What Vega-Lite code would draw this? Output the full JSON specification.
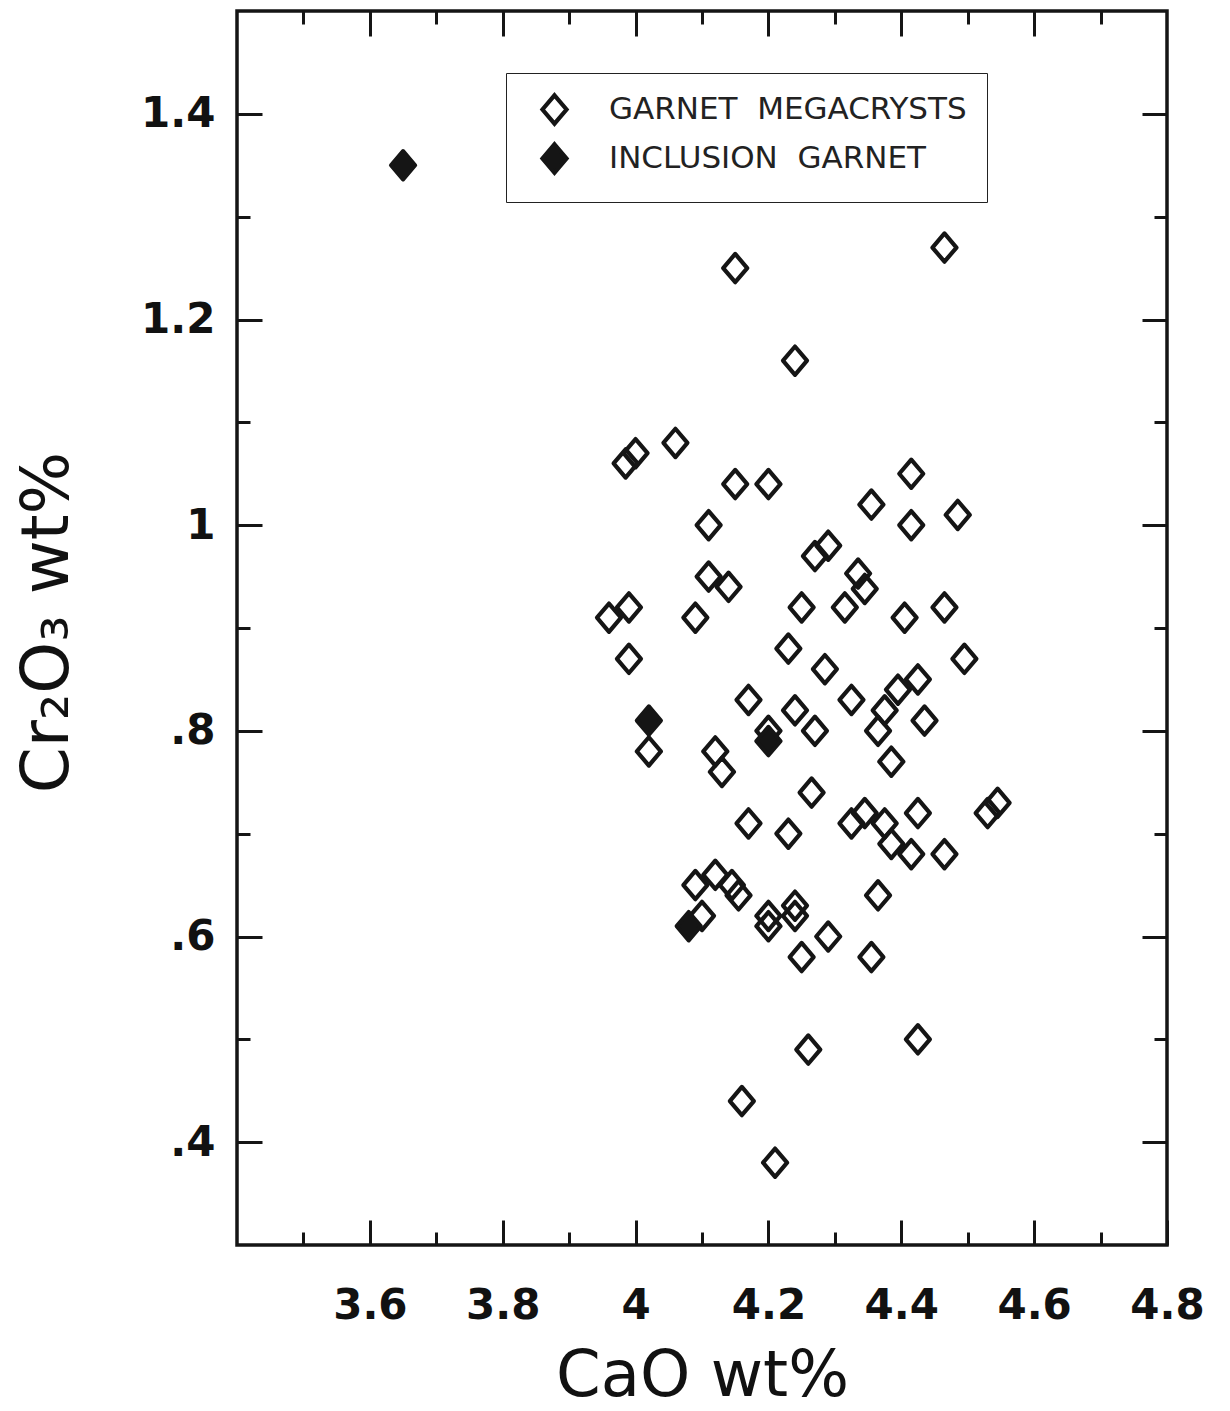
{
  "$schema": "https://vega.github.io/schema/vega-lite/v6.json",
  "autosize": {"type": "none"},
  "width": 930,
  "height": 1234,
  "padding": {"left": 237, "top": 11, "right": 63, "bottom": 166},
  "background": "white",
  "config": {
    "view": {"stroke": "#151515", "strokeWidth": 3.5},
    "axis": {"grid": false, "domain": false, "tickColor": "#151515", "tickWidth": 3, "labelColor": "#111", "titleColor": "#111"}
  },
  "data": {"values": [
    {"CaO": 4.15, "Cr2O3": 1.25, "type": "GARNET MEGACRYSTS"},
    {"CaO": 4.465, "Cr2O3": 1.27, "type": "GARNET MEGACRYSTS"},
    {"CaO": 4.24, "Cr2O3": 1.16, "type": "GARNET MEGACRYSTS"},
    {"CaO": 4.06, "Cr2O3": 1.08, "type": "GARNET MEGACRYSTS"},
    {"CaO": 4.0, "Cr2O3": 1.07, "type": "GARNET MEGACRYSTS"},
    {"CaO": 3.985, "Cr2O3": 1.06, "type": "GARNET MEGACRYSTS"},
    {"CaO": 4.15, "Cr2O3": 1.04, "type": "GARNET MEGACRYSTS"},
    {"CaO": 4.2, "Cr2O3": 1.04, "type": "GARNET MEGACRYSTS"},
    {"CaO": 4.415, "Cr2O3": 1.05, "type": "GARNET MEGACRYSTS"},
    {"CaO": 4.355, "Cr2O3": 1.02, "type": "GARNET MEGACRYSTS"},
    {"CaO": 4.485, "Cr2O3": 1.01, "type": "GARNET MEGACRYSTS"},
    {"CaO": 4.11, "Cr2O3": 1.0, "type": "GARNET MEGACRYSTS"},
    {"CaO": 4.415, "Cr2O3": 1.0, "type": "GARNET MEGACRYSTS"},
    {"CaO": 4.29, "Cr2O3": 0.98, "type": "GARNET MEGACRYSTS"},
    {"CaO": 4.27, "Cr2O3": 0.97, "type": "GARNET MEGACRYSTS"},
    {"CaO": 4.11, "Cr2O3": 0.95, "type": "GARNET MEGACRYSTS"},
    {"CaO": 4.14, "Cr2O3": 0.94, "type": "GARNET MEGACRYSTS"},
    {"CaO": 4.335, "Cr2O3": 0.953, "type": "GARNET MEGACRYSTS"},
    {"CaO": 4.345, "Cr2O3": 0.938, "type": "GARNET MEGACRYSTS"},
    {"CaO": 3.96, "Cr2O3": 0.91, "type": "GARNET MEGACRYSTS"},
    {"CaO": 3.99, "Cr2O3": 0.92, "type": "GARNET MEGACRYSTS"},
    {"CaO": 4.09, "Cr2O3": 0.91, "type": "GARNET MEGACRYSTS"},
    {"CaO": 4.25, "Cr2O3": 0.92, "type": "GARNET MEGACRYSTS"},
    {"CaO": 4.315, "Cr2O3": 0.92, "type": "GARNET MEGACRYSTS"},
    {"CaO": 4.405, "Cr2O3": 0.91, "type": "GARNET MEGACRYSTS"},
    {"CaO": 4.465, "Cr2O3": 0.92, "type": "GARNET MEGACRYSTS"},
    {"CaO": 3.99, "Cr2O3": 0.87, "type": "GARNET MEGACRYSTS"},
    {"CaO": 4.23, "Cr2O3": 0.88, "type": "GARNET MEGACRYSTS"},
    {"CaO": 4.285, "Cr2O3": 0.86, "type": "GARNET MEGACRYSTS"},
    {"CaO": 4.495, "Cr2O3": 0.87, "type": "GARNET MEGACRYSTS"},
    {"CaO": 4.17, "Cr2O3": 0.83, "type": "GARNET MEGACRYSTS"},
    {"CaO": 4.325, "Cr2O3": 0.83, "type": "GARNET MEGACRYSTS"},
    {"CaO": 4.24, "Cr2O3": 0.82, "type": "GARNET MEGACRYSTS"},
    {"CaO": 4.395, "Cr2O3": 0.84, "type": "GARNET MEGACRYSTS"},
    {"CaO": 4.425, "Cr2O3": 0.85, "type": "GARNET MEGACRYSTS"},
    {"CaO": 4.375, "Cr2O3": 0.82, "type": "GARNET MEGACRYSTS"},
    {"CaO": 4.365, "Cr2O3": 0.8, "type": "GARNET MEGACRYSTS"},
    {"CaO": 4.27, "Cr2O3": 0.8, "type": "GARNET MEGACRYSTS"},
    {"CaO": 4.435, "Cr2O3": 0.81, "type": "GARNET MEGACRYSTS"},
    {"CaO": 4.2, "Cr2O3": 0.8, "type": "GARNET MEGACRYSTS"},
    {"CaO": 4.02, "Cr2O3": 0.78, "type": "GARNET MEGACRYSTS"},
    {"CaO": 4.12, "Cr2O3": 0.78, "type": "GARNET MEGACRYSTS"},
    {"CaO": 4.13, "Cr2O3": 0.76, "type": "GARNET MEGACRYSTS"},
    {"CaO": 4.385, "Cr2O3": 0.77, "type": "GARNET MEGACRYSTS"},
    {"CaO": 4.265, "Cr2O3": 0.74, "type": "GARNET MEGACRYSTS"},
    {"CaO": 4.17, "Cr2O3": 0.71, "type": "GARNET MEGACRYSTS"},
    {"CaO": 4.23, "Cr2O3": 0.7, "type": "GARNET MEGACRYSTS"},
    {"CaO": 4.325, "Cr2O3": 0.71, "type": "GARNET MEGACRYSTS"},
    {"CaO": 4.345, "Cr2O3": 0.72, "type": "GARNET MEGACRYSTS"},
    {"CaO": 4.375, "Cr2O3": 0.71, "type": "GARNET MEGACRYSTS"},
    {"CaO": 4.385, "Cr2O3": 0.69, "type": "GARNET MEGACRYSTS"},
    {"CaO": 4.415, "Cr2O3": 0.68, "type": "GARNET MEGACRYSTS"},
    {"CaO": 4.425, "Cr2O3": 0.72, "type": "GARNET MEGACRYSTS"},
    {"CaO": 4.465, "Cr2O3": 0.68, "type": "GARNET MEGACRYSTS"},
    {"CaO": 4.53, "Cr2O3": 0.72, "type": "GARNET MEGACRYSTS"},
    {"CaO": 4.545, "Cr2O3": 0.73, "type": "GARNET MEGACRYSTS"},
    {"CaO": 4.365, "Cr2O3": 0.64, "type": "GARNET MEGACRYSTS"},
    {"CaO": 4.09, "Cr2O3": 0.65, "type": "GARNET MEGACRYSTS"},
    {"CaO": 4.12, "Cr2O3": 0.66, "type": "GARNET MEGACRYSTS"},
    {"CaO": 4.145, "Cr2O3": 0.65, "type": "GARNET MEGACRYSTS"},
    {"CaO": 4.155, "Cr2O3": 0.64, "type": "GARNET MEGACRYSTS"},
    {"CaO": 4.1, "Cr2O3": 0.62, "type": "GARNET MEGACRYSTS"},
    {"CaO": 4.2, "Cr2O3": 0.62, "type": "GARNET MEGACRYSTS"},
    {"CaO": 4.2, "Cr2O3": 0.61, "type": "GARNET MEGACRYSTS"},
    {"CaO": 4.24, "Cr2O3": 0.63, "type": "GARNET MEGACRYSTS"},
    {"CaO": 4.24, "Cr2O3": 0.62, "type": "GARNET MEGACRYSTS"},
    {"CaO": 4.29, "Cr2O3": 0.6, "type": "GARNET MEGACRYSTS"},
    {"CaO": 4.25, "Cr2O3": 0.58, "type": "GARNET MEGACRYSTS"},
    {"CaO": 4.355, "Cr2O3": 0.58, "type": "GARNET MEGACRYSTS"},
    {"CaO": 4.26, "Cr2O3": 0.49, "type": "GARNET MEGACRYSTS"},
    {"CaO": 4.425, "Cr2O3": 0.5, "type": "GARNET MEGACRYSTS"},
    {"CaO": 4.16, "Cr2O3": 0.44, "type": "GARNET MEGACRYSTS"},
    {"CaO": 4.21, "Cr2O3": 0.38, "type": "GARNET MEGACRYSTS"},
    {"CaO": 3.65, "Cr2O3": 1.35, "type": "INCLUSION GARNET"},
    {"CaO": 4.02, "Cr2O3": 0.81, "type": "INCLUSION GARNET"},
    {"CaO": 4.2, "Cr2O3": 0.79, "type": "INCLUSION GARNET"},
    {"CaO": 4.08, "Cr2O3": 0.61, "type": "INCLUSION GARNET"}
  ]},
  "resolve": {"axis": {"x": "independent", "y": "independent"}},
  "layer": [
    {
      "mark": {"type": "point", "filled": true, "opacity": 1, "stroke": "#151515", "strokeWidth": 4.2, "strokeJoin": "round", "size": 800, "shape": "M0,-1L0.85,0L0,1L-0.85,0Z"},
      "encoding": {
        "x": {"field": "CaO", "type": "quantitative",
          "scale": {"domain": [3.4, 4.8], "nice": false, "zero": false},
          "axis": {"orient": "bottom", "values": [3.6, 3.8, 4.0, 4.2, 4.4, 4.6, 4.8], "tickSize": -25,
            "labelFont": "DejaVu Sans", "labelFontWeight": "bold", "labelFontSize": 42, "labelPadding": 65,
            "labelFlush": false, "labelOverlap": false, "labelExpr": "format(datum.value, '.2~f')",
            "title": "CaO wt%", "titleFont": "DejaVu Sans", "titleFontSize": 64, "titleFontWeight": "normal",
            "titleX": 465, "titleY": 150, "titleBaseline": "alphabetic", "titleAlign": "center"}},
        "y": {"field": "Cr2O3", "type": "quantitative",
          "scale": {"domain": [0.3, 1.5], "nice": false, "zero": false},
          "axis": {"orient": "left", "values": [0.4, 0.6, 0.8, 1.0, 1.2, 1.4], "tickSize": -25,
            "labelFont": "DejaVu Sans", "labelFontWeight": "bold", "labelFontSize": 42, "labelPadding": 47,
            "labelFlush": false, "labelOverlap": false,
            "labelExpr": "datum.value < 1 ? substring(format(datum.value, '.1f'), 1) : format(datum.value, '.2~f')",
            "title": "Cr₂O₃ wt%", "titleFont": "DejaVu Sans", "titleFontSize": 66, "titleFontWeight": "normal",
            "titleX": -170, "titleY": 611, "titleBaseline": "alphabetic", "titleAlign": "center", "titleAngle": -90}},
        "fill": {"field": "type", "type": "nominal",
          "scale": {"domain": ["GARNET MEGACRYSTS", "INCLUSION GARNET"], "range": ["transparent", "#151515"]},
          "legend": {"title": null, "orient": "none", "legendX": 269, "legendY": 62,
            "symbolType": "M0,-1L0.85,0L0,1L-0.85,0Z", "symbolSize": 800, "symbolStrokeColor": "#151515", "symbolStrokeWidth": 4.2,
            "symbolOffset": 12, "labelOffset": 38, "labelFont": "DejaVu Sans", "labelFontSize": 31, "labelColor": "#222",
            "labelExpr": "replace(datum.label, ' ', '\u00a0\u00a0')",
            "labelLimit": 600, "rowPadding": 2, "padding": 20, "strokeColor": "#222", "fillColor": "white"}}
      }
    },
    {
      "mark": {"type": "point", "opacity": 0},
      "encoding": {
        "x": {"field": "CaO", "type": "quantitative",
          "axis": {"orient": "bottom", "values": [3.5, 3.7, 3.9, 4.1, 4.3, 4.5, 4.7], "tickSize": -13, "labels": false, "title": null}},
        "y": {"field": "Cr2O3", "type": "quantitative",
          "axis": {"orient": "left", "values": [0.5, 0.7, 0.9, 1.1, 1.3], "tickSize": -13, "labels": false, "title": null}}
      }
    },
    {
      "mark": {"type": "point", "opacity": 0},
      "encoding": {
        "x": {"field": "CaO", "type": "quantitative",
          "axis": {"orient": "top", "values": [3.6, 3.8, 4.0, 4.2, 4.4, 4.6], "tickSize": -25, "labels": false, "title": null}},
        "y": {"field": "Cr2O3", "type": "quantitative",
          "axis": {"orient": "right", "values": [0.4, 0.6, 0.8, 1.0, 1.2, 1.4], "tickSize": -25, "labels": false, "title": null}}
      }
    },
    {
      "mark": {"type": "point", "opacity": 0},
      "encoding": {
        "x": {"field": "CaO", "type": "quantitative",
          "axis": {"orient": "top", "values": [3.5, 3.7, 3.9, 4.1, 4.3, 4.5, 4.7], "tickSize": -13, "labels": false, "title": null}},
        "y": {"field": "Cr2O3", "type": "quantitative",
          "axis": {"orient": "right", "values": [0.5, 0.7, 0.9, 1.1, 1.3], "tickSize": -13, "labels": false, "title": null}}
      }
    }
  ]
}
